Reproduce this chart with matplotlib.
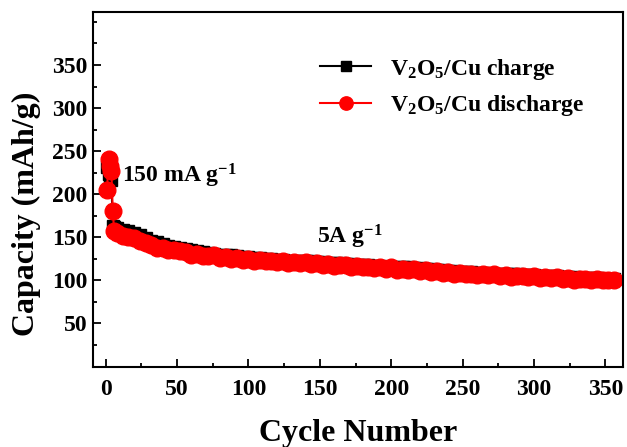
import matplotlib
matplotlib.use('Agg')
import matplotlib.pyplot as plt
from matplotlib.ticker import MultipleLocator

plt.rcParams['font.family'] = 'Liberation Serif'
plt.rcParams['font.weight'] = 'bold'
plt.rcParams['mathtext.fontset'] = 'custom'
plt.rcParams['mathtext.rm'] = 'Liberation Serif:bold'
plt.rcParams['mathtext.it'] = 'Liberation Serif:bold'
plt.rcParams['mathtext.bf'] = 'Liberation Serif:bold'

# cycle numbers: first cycles one by one, then every 4th cycle
cycles = [1, 2, 3, 4, 5, 6] + list(range(8, 357, 4))

charge = [232, 224, 219, 216, 163, 162,
          161, 159, 157, 155, 153, 149, 146, 144, 142, 140, 139,
          138, 137, 135, 134, 133, 132, 131, 130, 129, 129, 128,
          127, 127, 126, 126, 125, 125, 124, 124, 123, 123, 122,
          122, 122, 121, 121, 120, 120, 120, 119, 119, 118, 118,
          118, 117, 117, 116, 116, 115, 115, 115, 114, 114, 113,
          113, 112, 112, 111, 111, 110, 110, 110, 109, 109, 108,
          108, 108, 107, 107, 107, 106, 106, 106, 105, 105, 105,
          105, 104, 104, 104, 103, 103, 103, 103, 102, 102, 102]

discharge = [205, 241, 233, 227, 180, 157,
             155, 152, 150, 149, 146, 143, 141, 138, 138, 135, 135,
             134, 133, 130, 131, 128, 128, 129, 126, 127, 125, 126,
             124, 125, 123, 124, 122, 123, 121, 122, 120, 121, 120,
             121, 119, 120, 118, 119, 117, 118, 118, 116, 117, 115,
             116, 114, 115, 113, 115, 112, 113, 112, 113, 111, 112,
             110, 111, 109, 110, 108, 109, 107, 108, 106, 107, 106,
             107, 105, 106, 104, 105, 105, 104, 105, 103, 104, 103,
             104, 102, 103, 101, 102, 102, 101, 102, 100, 101, 100]

fig = plt.figure(figsize=(6.27, 4.47), dpi=100)
ax = fig.add_axes([0.148, 0.180, 0.845, 0.794])

ax.plot(cycles, charge, color='black', marker='s', markersize=9, lw=1.5,
        label=r'V$_2$O$_5$/Cu charge')
ax.plot(cycles, discharge, color='red', marker='o', markersize=12, lw=1.5,
        label=r'V$_2$O$_5$/Cu discharge')

ax.text(11.5, 221, r'150 mA g$^{-1}$', fontsize=17, fontweight='bold', va='center')
ax.text(148, 151, r'5A g$^{-1}$', fontsize=17, fontweight='bold', va='center')

ax.set_xlim(-9, 362)
ax.set_ylim(0, 412)
ax.set_xticks([0, 50, 100, 150, 200, 250, 300, 350])
ax.set_yticks([50, 100, 150, 200, 250, 300, 350])
ax.xaxis.set_minor_locator(MultipleLocator(25))
ax.yaxis.set_minor_locator(MultipleLocator(25))
ax.tick_params(which='major', direction='in', length=6, width=1.3, labelsize=17)
ax.tick_params(axis='x', which='major', pad=9)
ax.tick_params(axis='y', which='major', pad=4)
ax.tick_params(which='minor', direction='in', length=3, width=1.3)
ax.tick_params(top=False, right=False)
for s in ax.spines.values():
    s.set_linewidth(1.5)

ax.set_xlabel('Cycle Number', fontsize=23, fontweight='bold', labelpad=14)
ax.set_ylabel('Capacity (mAh/g)', fontsize=23, fontweight='bold')
ax.yaxis.set_label_coords(-0.097, 0.43)

leg = ax.legend(loc='upper right', bbox_to_anchor=(0.96, 0.92), frameon=False,
                fontsize=17, handlelength=2.2, borderpad=0.2, labelspacing=0.5,
                markerscale=0.8)

fig.savefig('out.png', dpi=100)
